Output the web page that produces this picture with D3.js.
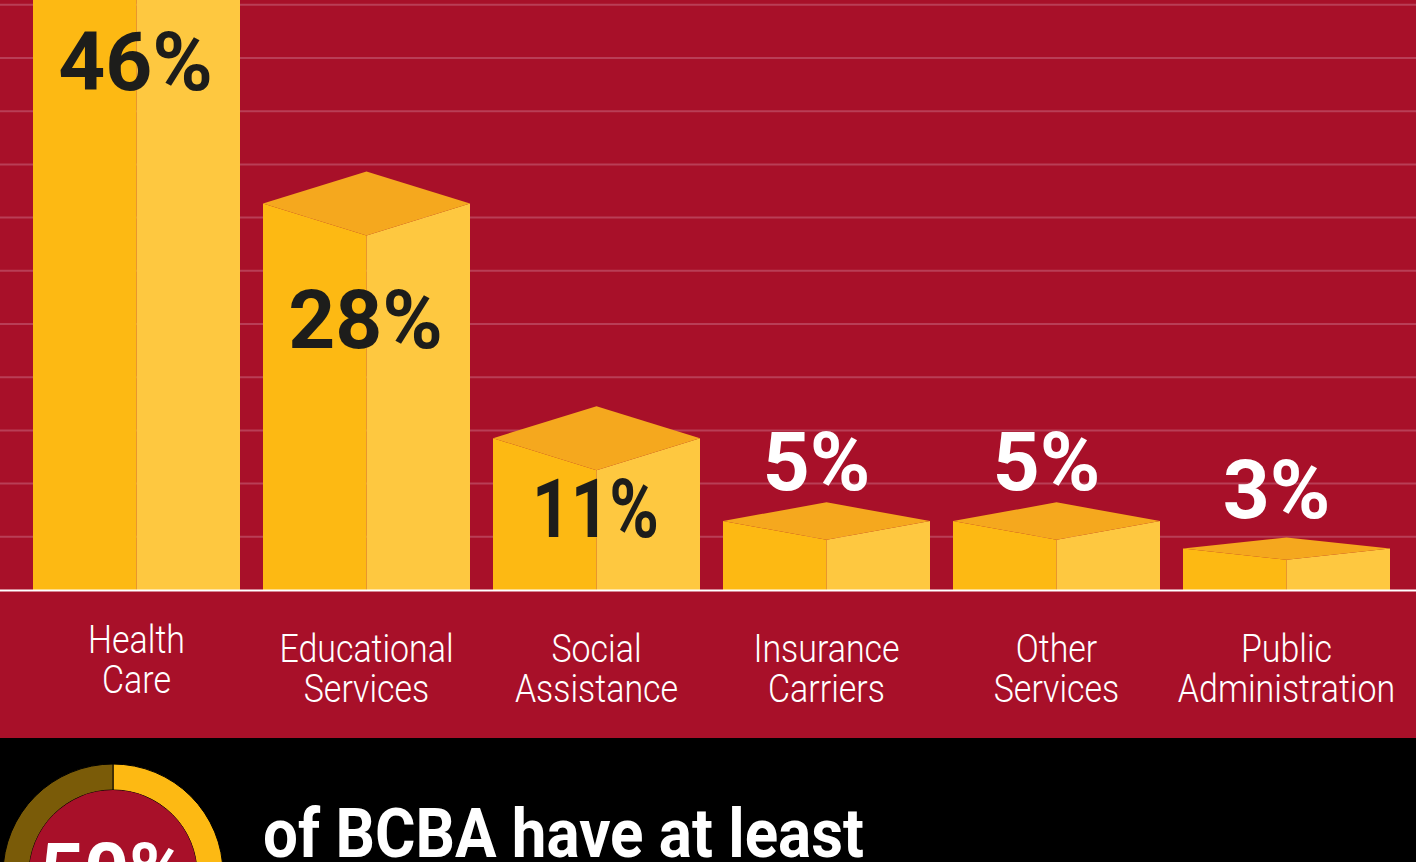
<!DOCTYPE html>
<html>
<head>
<meta charset="utf-8">
<script src="https://cdn.jsdelivr.net/npm/d3@7"></script>
<style>
  body { margin: 0; background: #000; overflow: hidden; }
  svg { display: block; }
</style>
</head>
<body>
<script>
var width = 1416;
var height = 862;
var baseY = 590;
var redBottom = 738;

// data
var categories = ["Health Care", "Educational Services", "Social Assistance", "Insurance Carriers", "Other Services", "Public Administration"];
var catLines = [["Health", "Care"], ["Educational", "Services"], ["Social", "Assistance"], ["Insurance", "Carriers"], ["Other", "Services"], ["Public", "Administration"]];
var shares = [46, 28, 11, 5, 5, 3];
var donutValue = 50;
var donutText = "50%";
var bottomText = "of BCBA have at least";

var red = "#a81029";
var leftFace = "#fdb913";
var rightFace = "#fec840";
var topFace = "#f5a81e";
var darkText = "#1d1d1b";

var svg = d3.select("body")
            .append("svg")
            .attr("width", width)
            .attr("height", height);

svg.append("rect")
   .attr("width", width)
   .attr("height", redBottom)
   .attr("fill", red);

svg.append("rect")
   .attr("y", redBottom)
   .attr("width", width)
   .attr("height", height - redBottom)
   .attr("fill", "#000");

var xScale = d3.scaleBand()
               .domain(categories)
               .range([33, 1390])
               .paddingInner(0.1)
               .paddingOuter(0);

var yScale = d3.scaleLinear()
               .domain([0, 100])
               .range([baseY, baseY - 1380]);

// decorative grid lines
var gridStep = 3.855;
svg.append("g")
   .selectAll("line")
   .data(d3.range(1, 12))
   .enter()
   .append("line")
   .attr("x1", 0)
   .attr("x2", width)
   .attr("y1", (d) => yScale(d * gridStep))
   .attr("y2", (d) => yScale(d * gridStep))
   .attr("stroke", "#c0536a")
   .attr("stroke-opacity", 0.7)
   .attr("stroke-width", 2);

// 3D bars
var depth = (v) => Math.min(32, 0.27 * (baseY - yScale(v)));

var bars = svg.selectAll(".bar")
              .data(categories)
              .enter()
              .append("g")
              .attr("class", "bar");

bars.each(function(c, i){
  var g = d3.select(this);
  var x0 = xScale(c);
  var x1 = x0 + xScale.bandwidth();
  var xm = x0 + xScale.bandwidth() / 2;
  var yt = yScale(shares[i]);
  var d = depth(shares[i]);
  g.append("polygon")
   .attr("points", [[x0, yt], [xm, yt + d], [xm, baseY], [x0, baseY]].join(" "))
   .attr("fill", leftFace);
  g.append("polygon")
   .attr("points", [[xm, yt + d], [x1, yt], [x1, baseY], [xm, baseY]].join(" "))
   .attr("fill", rightFace);
  g.append("polygon")
   .attr("points", [[x0, yt], [xm, yt - d], [x1, yt], [xm, yt + d]].join(" "))
   .attr("fill", topFace);
});

// baseline
svg.append("line")
   .attr("x1", 0)
   .attr("x2", width)
   .attr("y1", baseY + 0.5)
   .attr("y2", baseY + 0.5)
   .attr("stroke", "#fff")
   .attr("stroke-width", 2);

// value labels
function labelY(v){
  var yt = yScale(v);
  if (v >= 10) return yt < 0 ? 90 : Math.min(yt + 144, 537);
  return yt - 31;
}

var valG = svg.selectAll(".value")
              .data(shares)
              .enter()
              .append("g")
              .attr("class", "value")
              .attr("transform", (d, i) => "translate(" + (xScale(categories[i]) + xScale.bandwidth() / 2 + (d >= 10 ? -1 : -10)) + "," + labelY(d) + ") scale(" + (d === 11 ? 0.82 : 1) + ",1)");

valG.append("text")
    .attr("text-anchor", "middle")
    .attr("font-family", "Roboto")
    .attr("font-weight", 700)
    .attr("font-size", 82)
    .attr("fill", (d) => d >= 10 ? darkText : "#fff")
    .text((d) => d + "%");

// category labels
var catG = svg.selectAll(".cat")
              .data(categories)
              .enter()
              .append("g")
              .attr("class", "cat")
              .attr("transform", (d) => "translate(" + (xScale(d) + xScale.bandwidth() / 2) + ",0) scale(0.87,1)");

catG.selectAll("text")
    .data((d, i) => catLines[i].map((t, j) => ({t: t, j: j, first: i === 0})))
    .enter()
    .append("text")
    .attr("x", 0)
    .attr("y", (d) => (d.first ? 653 : 662) + d.j * 40)
    .attr("text-anchor", "middle")
    .attr("font-family", "Roboto")
    .attr("font-weight", 300)
    .attr("font-size", 39)
    .attr("fill", "#fff")
    .text((d) => d.t);

// donut
var cx = 113, cy = 874;
var pie = d3.pie().sort(null);
var arc = d3.arc().innerRadius(84).outerRadius(110);
var donut = svg.append("g").attr("transform", "translate(" + cx + "," + cy + ")");

donut.selectAll("path")
     .data(pie([donutValue, 100 - donutValue]))
     .enter()
     .append("path")
     .attr("d", arc)
     .attr("fill", (d, i) => i === 0 ? "#fdb913" : "#7a5b08")
     .attr("stroke", "#000")
     .attr("stroke-width", 1);

donut.append("circle")
     .attr("r", 84)
     .attr("fill", red);

donut.append("text")
     .attr("y", 24)
     .attr("text-anchor", "middle")
     .attr("font-family", "Roboto")
     .attr("font-weight", 700)
     .attr("font-size", 78)
     .attr("fill", "#fff")
     .text(donutText);

svg.append("g")
   .attr("transform", "translate(263,857) scale(0.91,1)")
   .append("text")
   .attr("font-family", "Roboto")
   .attr("font-weight", 700)
   .attr("font-size", 68)
   .attr("fill", "#fff")
   .text(bottomText);
</script>
</body>
</html>
